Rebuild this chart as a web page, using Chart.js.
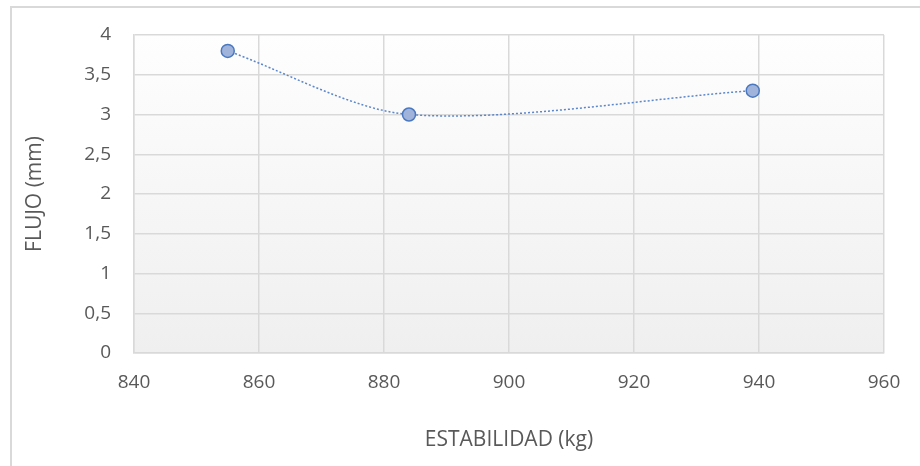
<!DOCTYPE html>
<html>
<head>
<meta charset="utf-8">
<script src="https://cdn.jsdelivr.net/npm/chart.js@4/dist/chart.umd.min.js"></script>
<style>
  html, body { margin: 0; padding: 0; background: #ffffff; overflow: hidden; }
  #frame { position: absolute; left: 10px; top: 6px; width: 1000px; height: 1000px;
           border-left: 2px solid #d9d9d9; border-top: 2px solid #d9d9d9; box-sizing: border-box; }
  #wrap { position: absolute; left: 0; top: 0; width: 920px; height: 466px; }
</style>
</head>
<body>
<div id="frame"></div>
<div id="wrap"><canvas id="c" width="920" height="466"></canvas></div>
<script>
const estabilidad = [855, 884, 939];
const flujo = [3.8, 3.0, 3.3];
const xTitle = 'ESTABILIDAD (kg)';
const yTitle = 'FLUJO (mm)';

const points = estabilidad.map((x, i) => ({ x: x, y: flujo[i] }));

const bgPlugin = {
  id: 'bg',
  beforeDraw(chart) {
    const { ctx, chartArea: a } = chart;
    const g = ctx.createLinearGradient(0, a.top, 0, a.bottom);
    g.addColorStop(0, '#fefefe');
    g.addColorStop(1, '#efefef');
    ctx.save();
    ctx.fillStyle = g;
    ctx.fillRect(a.left, a.top, a.right - a.left, a.bottom - a.top);
    ctx.restore();
  }
};

const txt = '#595959';
const tickFont = { family: 'Open Sans', size: 19 };
const titleFont = { family: 'Open Sans', size: 21 };

new Chart(document.getElementById('c'), {
  type: 'scatter',
  data: {
    datasets: [{
      data: points,
      showLine: true,
      tension: 0.3,
      borderColor: '#5b87cc',
      borderWidth: 1.5,
      borderDash: [2, 2],
      pointRadius: 6.5,
      pointHoverRadius: 6.5,
      pointBackgroundColor: '#a0b3da',
      pointBorderColor: '#4a78c0',
      pointBorderWidth: 1.5
    }]
  },
  options: {
    responsive: false,
    animation: false,
    events: [],
    layout: { padding: { top: 35, left: 0, right: 36, bottom: 0 } },
    plugins: { legend: { display: false }, tooltip: { enabled: false } },
    scales: {
      x: {
        type: 'linear',
        min: 840, max: 960,
        afterFit(s) { s.height = 113; },
        ticks: { stepSize: 20, color: txt, font: tickFont, padding: 18 },
        grid: { color: '#d9d9d9', lineWidth: 1.5, drawTicks: false },
        border: { display: true, color: '#d9d9d9', width: 1.5 },
        title: { display: true, text: xTitle, color: txt, font: titleFont, padding: { top: 0, bottom: 13 } }
      },
      y: {
        type: 'linear',
        min: 0, max: 4,
        afterFit(s) { s.width = 134; },
        ticks: { stepSize: 0.5, color: txt, font: tickFont, padding: 23,
                 callback: v => String(v).replace('.', ',') },
        grid: { color: '#d9d9d9', lineWidth: 1.5, drawTicks: false },
        border: { display: true, color: '#d9d9d9', width: 1.5 },
        title: { display: true, text: yTitle, color: txt, font: titleFont, padding: { top: 22, bottom: 0 } }
      }
    }
  },
  plugins: [bgPlugin]
});
</script>
</body>
</html>
